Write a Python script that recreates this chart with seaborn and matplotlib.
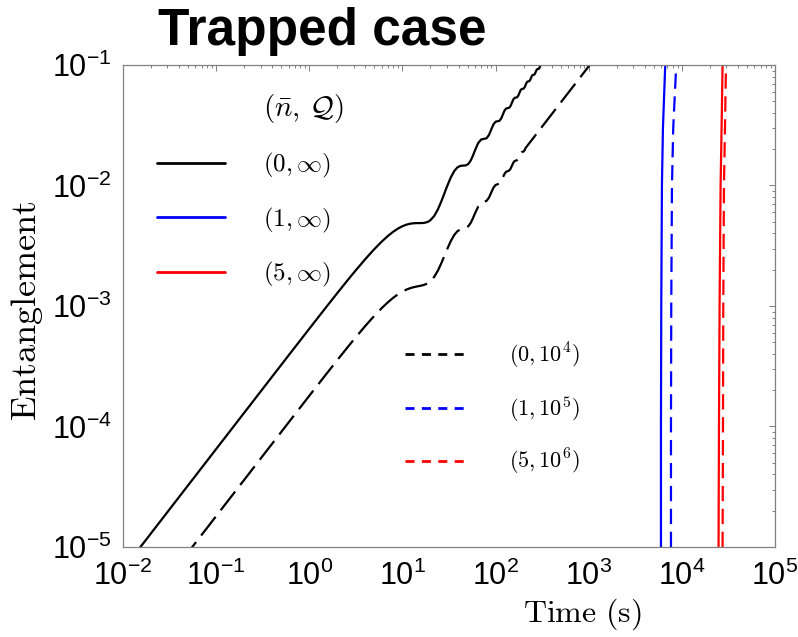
import numpy as np
import pandas as pd
import seaborn as sns
import matplotlib
matplotlib.use("Agg")
import matplotlib.pyplot as plt
from matplotlib.lines import Line2D
from matplotlib.ticker import LogLocator, NullFormatter

# ---- series: (n_bar, Q) = (0, inf), solid black ----
time_0_inf = [0.01, 0.03, 0.1, 0.3, 0.6, 1, 1.5, 2, 2.5, 3, 4, 5, 6, 7, 8, 9, 10,
              11, 12, 13, 14, 15, 16, 17, 18, 19, 20, 22, 24, 26, 28, 30, 33, 36,
              39, 42, 45, 48, 51, 54, 57, 60, 65, 70, 75, 80, 85, 90, 95, 100, 105,
              110, 115, 120, 125, 130, 135, 140, 145, 150, 155, 160, 165, 170, 175,
              180, 185, 190, 195, 200, 205, 210, 215, 220, 225, 230, 235, 240, 245,
              250, 255, 260, 265, 270, 275, 280, 285, 290, 295, 300, 305, 310]
ent_0_inf = [6.5e-6, 1.95e-5, 6.5e-5, 1.949e-4, 3.895e-4, 6.476e-4, 9.670e-4,
             1.281e-3, 1.588e-3, 1.887e-3, 2.453e-3, 2.969e-3, 3.426e-3, 3.818e-3,
             4.143e-3, 4.401e-3, 4.594e-3, 4.728e-3, 4.812e-3, 4.856e-3, 4.873e-3,
             4.875e-3, 4.878e-3, 4.894e-3, 4.938e-3, 5.022e-3, 5.157e-3, 5.607e-3,
             6.324e-3, 7.297e-3, 8.469e-3, 9.750e-3, 1.1637e-2, 1.3175e-2, 1.4150e-2,
             1.4562e-2, 1.4625e-2, 1.4687e-2, 1.5100e-2, 1.6074e-2, 1.7613e-2,
             1.950e-2, 2.2469e-2, 2.4094e-2, 2.4375e-2, 2.4656e-2, 2.6281e-2,
             2.925e-2, 3.2219e-2, 3.3844e-2, 3.4125e-2, 3.4406e-2, 3.6031e-2,
             3.900e-2, 4.1969e-2, 4.3594e-2, 4.3875e-2, 4.4156e-2, 4.5781e-2,
             4.875e-2, 5.1719e-2, 5.3344e-2, 5.3625e-2, 5.3906e-2, 5.5531e-2,
             5.850e-2, 6.1469e-2, 6.3094e-2, 6.3375e-2, 6.3656e-2, 6.5281e-2,
             6.825e-2, 7.1219e-2, 7.2844e-2, 7.3125e-2, 7.3406e-2, 7.5031e-2,
             7.800e-2, 8.0969e-2, 8.2594e-2, 8.2875e-2, 8.3156e-2, 8.4781e-2,
             8.775e-2, 9.0719e-2, 9.2344e-2, 9.2625e-2, 9.2906e-2, 9.4531e-2,
             9.750e-2, 1.0047e-1, 1.0209e-1]

# ---- series: (0, 1e4), dashed black ----
time_0_1e4 = [0.01, 0.03, 0.1, 0.3, 0.6, 1, 1.5, 2, 2.5, 3, 4, 5, 6, 7, 8, 9, 10,
              11, 12, 13, 14, 15, 16, 17, 18, 19, 20, 22, 24, 26, 28, 30, 33, 36,
              39, 42, 45, 48, 51, 54, 57, 60, 65, 70, 75, 80, 85, 90, 95, 100, 105,
              110, 115, 120, 125, 130, 135, 140, 145, 150, 155, 160, 165, 170, 175,
              180, 185, 190, 195, 200, 205, 210, 250, 300, 400, 500, 700, 1000, 1100]
ent_0_1e4 = [1.804e-6, 5.411e-6, 1.804e-5, 5.410e-5, 1.0809e-4, 1.7977e-4,
             2.6853e-4, 3.5594e-4, 4.4159e-4, 5.2509e-4, 6.8404e-4, 8.3019e-4,
             9.6137e-4, 1.0760e-3, 1.1736e-3, 1.2539e-3, 1.3177e-3, 1.3666e-3,
             1.4026e-3, 1.4285e-3, 1.4473e-3, 1.4625e-3, 1.4778e-3, 1.4966e-3,
             1.5224e-3, 1.5585e-3, 1.6074e-3, 1.7515e-3, 1.9637e-3, 2.2409e-3,
             2.5690e-3, 2.925e-3, 3.4500e-3, 3.8862e-3, 4.1787e-3, 4.3275e-3,
             4.3875e-3, 4.4473e-3, 4.5963e-3, 4.8886e-3, 5.3251e-3, 5.850e-3,
             6.6802e-3, 7.1677e-3, 7.3125e-3, 7.4573e-3, 7.9448e-3, 8.775e-3,
             9.6052e-3, 1.00927e-2, 1.02375e-2, 1.03823e-2, 1.08698e-2, 1.170e-2,
             1.25302e-2, 1.30177e-2, 1.31625e-2, 1.33073e-2, 1.37948e-2, 1.4625e-2,
             1.54552e-2, 1.59427e-2, 1.60875e-2, 1.62323e-2, 1.67198e-2, 1.755e-2,
             1.83802e-2, 1.88677e-2, 1.90125e-2, 1.91573e-2, 1.96448e-2, 2.0475e-2,
             2.4375e-2, 2.925e-2, 3.900e-2, 4.875e-2, 6.825e-2, 9.750e-2, 1.0725e-1]

# ---- thermal cases: sudden rise of entanglement ----
ent_levels = [1e-5, 1e-4, 1e-3, 1e-2, 3e-2, 1e-1]
time_1_inf = [5965, 5965, 6010, 6110, 6265, 6630]
time_1_1e5 = [7640, 7640, 7695, 7830, 8080, 8700]
time_5_inf = [24770, 25030, 25410, 26050, 26700, 27360]
time_5_1e6 = [27360, 27640, 27840, 28310, 29040, 29770]

labels_inf = [r"$(0,\infty)$", r"$(1,\infty)$", r"$(5,\infty)$"]
labels_q = [r"$(0,10^4)$", r"$(1,10^5)$", r"$(5,10^6)$"]
legend_title = r"$(\bar{n},\,\mathcal{Q})$"

series = {
    "0_inf": (time_0_inf, ent_0_inf),
    "0_q": (time_0_1e4, ent_0_1e4),
    "1_inf": (time_1_inf, ent_levels),
    "1_q": (time_1_1e5, ent_levels),
    "5_inf": (time_5_inf, ent_levels),
    "5_q": (time_5_1e6, ent_levels),
}
df = pd.concat(
    [pd.DataFrame({"time": t, "ent": e, "series": k}) for k, (t, e) in series.items()],
    ignore_index=True,
)

palette = {"0_inf": "black", "0_q": "black", "1_inf": "#0000FF", "1_q": "#0000FF",
           "5_inf": "#FF0000", "5_q": "#FF0000"}
dashes = {"0_inf": "", "0_q": (17.0, 6.0), "1_inf": "", "1_q": (11.0, 5.5),
          "5_inf": "", "5_q": (11.0, 5.5)}

sns.set_theme(style="white")
plt.rcParams.update({
    "font.family": ["Liberation Sans", "DejaVu Sans"],
    "mathtext.fontset": "cm",
    "axes.unicode_minus": False,
    "lines.scale_dashes": False,
    "text.color": "black",
    "axes.labelcolor": "black",
})

fig = plt.figure(figsize=(7.98, 6.37), dpi=100)
ax = fig.add_axes([0.15414, 0.14129, 0.81704, 0.75667])

sns.lineplot(data=df, x="time", y="ent", hue="series", style="series",
             palette=palette, dashes=dashes, estimator=None, sort=False,
             legend=False, linewidth=1.6, ax=ax)

ax.set_xscale("log")
ax.set_yscale("log")
ax.set_xlim(1e-2, 1e5)
ax.set_ylim(1e-5, 1e-1)
ax.xaxis.set_major_locator(LogLocator(base=10, numticks=20))
ax.xaxis.set_minor_locator(LogLocator(base=10, subs=np.arange(2, 10), numticks=100))
ax.yaxis.set_minor_locator(LogLocator(base=10, subs=np.arange(2, 10), numticks=100))
ax.xaxis.set_minor_formatter(NullFormatter())
ax.yaxis.set_minor_formatter(NullFormatter())

frame_color = "#808080"
for sp in ax.spines.values():
    sp.set_color(frame_color)
    sp.set_linewidth(0.9)
ax.tick_params(which="both", direction="in", top=True, right=True,
               color=frame_color, width=0.7, labelcolor="black")
ax.tick_params(which="major", length=4.5, labelsize=22)
ax.tick_params(which="minor", length=2.4)
ax.tick_params(axis="x", which="major", pad=10)
ax.tick_params(axis="y", which="major", pad=8)

ax.set_xlabel(r"$\mathrm{Time\ (s)}$", fontsize=23)
ax.set_ylabel(r"$\mathrm{Entanglement}$", fontsize=26)
ax.xaxis.set_label_coords(0.704, -0.102)
ax.yaxis.set_label_coords(-0.119, 0.49)

fig.text(0.4035, 0.929, "Trapped case", ha="center", va="baseline",
         fontsize=37, fontweight="bold", color="black")

# legend for the ideal-oscillator curves, headed by the parameter pair
h_title = Line2D([], [], color="none")
h_inf = [Line2D([], [], color=c, lw=2.0) for c in ["black", "#0000FF", "#FF0000"]]
leg1 = ax.legend([h_title] + h_inf, [legend_title] + labels_inf,
                 loc="upper left", bbox_to_anchor=(0.052, 0.943), frameon=False,
                 borderpad=0, borderaxespad=0, fontsize=18, handlelength=2.72,
                 handletextpad=1.52, labelspacing=1.02)
leg1.get_texts()[0].set_fontsize(21)
ax.add_artist(leg1)

h_q = [Line2D([], [], color=c, lw=2.0, linestyle=(0, (6.5, 5.3)))
       for c in ["black", "#0000FF", "#FF0000"]]
leg2 = ax.legend(h_q, labels_q, loc="upper left", bbox_to_anchor=(0.4325, 0.428),
                 frameon=False, borderpad=0, borderaxespad=0, fontsize=16,
                 handlelength=2.88, handletextpad=1.8, labelspacing=1.05)

fig.savefig("out.png", dpi=100)
